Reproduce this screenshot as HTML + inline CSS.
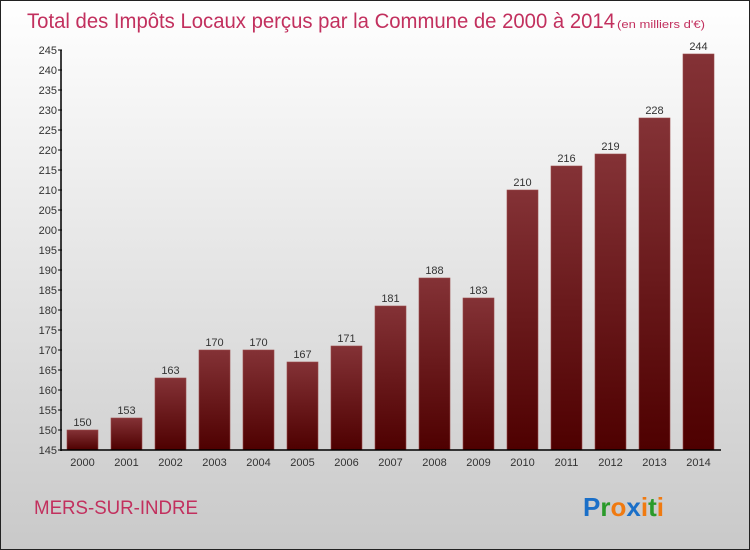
<!DOCTYPE html>
<html><head><meta charset="utf-8"><style>
body{margin:0;width:750px;height:550px;overflow:hidden;font-family:"Liberation Sans",sans-serif}
#wrap{position:absolute;left:0;top:0;width:748px;height:548px;border:1px solid #222;background:linear-gradient(#ffffff,#c9c9c9)}
</style></head><body>
<div id="wrap">
<svg width="750" height="550" id="chart" style="position:absolute;left:-1px;top:-1px">
<defs><linearGradient id="bg" x1="0" y1="0" x2="0" y2="1"><stop offset="0" stop-color="#843236"/><stop offset="1" stop-color="#4e0000"/></linearGradient></defs>
<text x="27" y="28" font-size="21" fill="#c2305e" textLength="588" lengthAdjust="spacingAndGlyphs">Total des Impôts Locaux perçus par la Commune de 2000 à 2014</text>
<text x="617" y="28" font-size="11" fill="#c2305e" textLength="88" lengthAdjust="spacingAndGlyphs">(en milliers d'€)</text>
<g id="plot"></g>
<text x="34" y="514" font-size="19" fill="#c2305e" textLength="164" lengthAdjust="spacingAndGlyphs">MERS-SUR-INDRE</text>
<text x="583" y="516" font-size="26" font-weight="bold"><tspan fill="#1a6fc8">P</tspan><tspan fill="#2a9a2a">r</tspan><tspan fill="#f07a10">o</tspan><tspan fill="#1a6fc8">x</tspan><tspan fill="#f07a10">i</tspan><tspan fill="#2a9a2a">t</tspan><tspan fill="#f07a10">i</tspan></text>
</svg></div>
<script>
const years=["2000","2001","2002","2003","2004","2005","2006","2007","2008","2009","2010","2011","2012","2013","2014"];
const values=[150,153,163,170,170,167,171,181,188,183,210,216,219,228,244];
const ticks=[145,150,155,160,165,170,175,180,185,190,195,200,205,210,215,220,225,230,235,240,245];
const NS="http://www.w3.org/2000/svg";
const g=document.getElementById('plot');
const y=v=>450-(v-145)*4;
const x=i=>67+i*44;
function mk(t,a){const e=document.createElementNS(NS,t);for(const k in a)e.setAttribute(k,a[k]);g.appendChild(e);return e;}
values.forEach((v,i)=>{
 const r=mk('rect',{x:x(i),y:y(v),width:31,height:450-y(v),fill:'url(#bg)',stroke:'#9a4a4a','stroke-width':0.6});
 
 
 const t=mk('text',{x:x(i)+15.5,y:y(v)-4,'text-anchor':'middle','font-size':11,fill:'#333'});t.textContent=v;
 
 
 const xl=mk('text',{x:x(i)+15.5,y:466,'text-anchor':'middle','font-size':11,fill:'#333'});xl.textContent=years[i];
 
 
});
ticks.forEach(v=>{
 mk('line',{x1:58,x2:62,y1:y(v),y2:y(v),stroke:'#000','stroke-width':1});
 const t=mk('text',{x:57,y:y(v)+4,'text-anchor':'end','font-size':11,fill:'#333'});t.textContent=v;
 
 
});
const ya=mk('line',{x1:61,x2:61,y1:y(245),y2:451,stroke:'#000','stroke-width':1.5});


const xa=mk('line',{x1:61,x2:721,y1:450,y2:450,stroke:'#000','stroke-width':1.5});


</script>
</body></html>
